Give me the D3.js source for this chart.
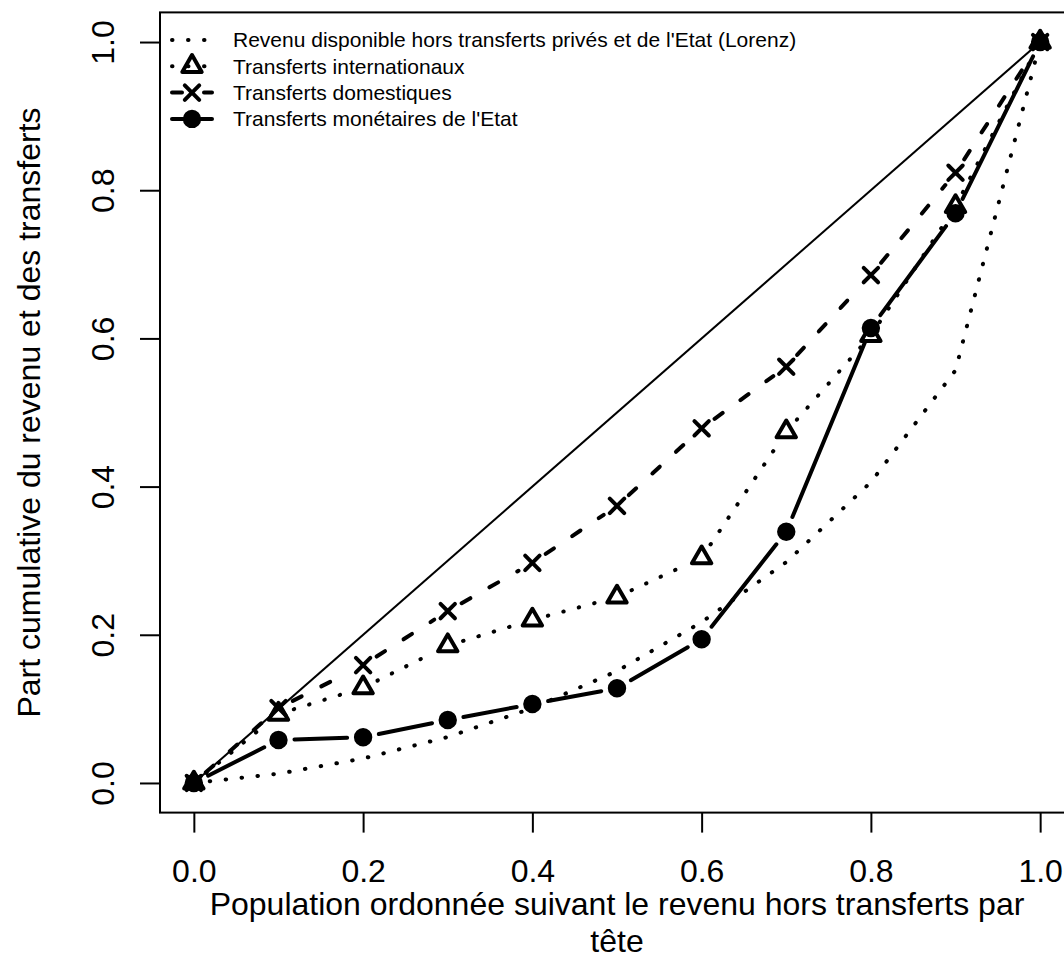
<!DOCTYPE html>
<html><head><meta charset="utf-8">
<script src="https://cdn.jsdelivr.net/npm/d3@7"></script>
<style>
body{margin:0;background:#fff}
svg{display:block}
text{font-family:"Liberation Sans",Arial,Helvetica,sans-serif;fill:#000}
</style>
</head><body>
<svg id="c" width="1064" height="960"></svg>
<script>
// ---- data ----
const deciles = [0, 0.1, 0.2, 0.3, 0.4, 0.5, 0.6, 0.7, 0.8, 0.9, 1.0];
const lorenz = [0, 0.0125, 0.033, 0.062, 0.101, 0.151, 0.217, 0.298, 0.406, 0.557, 1.0];
const internationaux = [0, 0.093, 0.1285, 0.1854, 0.22, 0.251, 0.304, 0.474, 0.604, 0.778, 1.0];
const domestiques = [0, 0.101, 0.159, 0.232, 0.297, 0.374, 0.4787, 0.5618, 0.6855, 0.8236, 1.0];
const etat = [0, 0.058, 0.0617, 0.085, 0.1066, 0.1278, 0.194, 0.339, 0.614, 0.769, 1.0];
const xTicks = [0, 0.2, 0.4, 0.6, 0.8, 1.0];
const yTicks = [0, 0.2, 0.4, 0.6, 0.8, 1.0];
const legendLabels = [
  "Revenu disponible hors transferts privés et de l'Etat (Lorenz)",
  "Transferts internationaux",
  "Transferts domestiques",
  "Transferts monétaires de l'Etat"
];
const xTitle1 = "Population ordonnée suivant le revenu hors transferts par";
const xTitle2 = "tête";
const yTitle = "Part cumulative du revenu et des transferts";

// ---- setup ----
const svg = d3.select("#c");
const L = 160, R = 1074, T = 12.4, B = 812.6;
const x = d3.scaleLinear().domain([-0.04, 1.04]).range([L, R]);
const y = d3.scaleLinear().domain([-0.04, 1.04]).range([B, T]);

const DOT = "0.5,15.5", DASH = "10,22";
const GAP = 16;
const S = 7.2; // symbol base size

function gappedSegments(g, xs, ys, dash) {
  for (let i = 0; i < xs.length - 1; i++) {
    const x0 = x(xs[i]), y0 = y(ys[i]), x1 = x(xs[i+1]), y1 = y(ys[i+1]);
    const d = Math.hypot(x1 - x0, y1 - y0);
    if (d <= 2 * GAP) continue;
    const ux = (x1 - x0) / d, uy = (y1 - y0) / d;
    g.append("line")
      .attr("x1", x0 + ux * GAP).attr("y1", y0 + uy * GAP)
      .attr("x2", x1 - ux * GAP).attr("y2", y1 - uy * GAP)
      .attr("stroke", "#000").attr("stroke-width", 4)
      .attr("stroke-linecap", "round")
      .attr("stroke-dasharray", dash);
  }
}
function tri(g, cx, cy) {
  g.append("path")
    .attr("d", `M${cx},${cy - 1.555*S}L${cx + 1.3468*S},${cy + 0.7776*S}L${cx - 1.3468*S},${cy + 0.7776*S}Z`)
    .attr("fill", "none").attr("stroke", "#000").attr("stroke-width", 4)
    .attr("stroke-linejoin", "round");
}
function cross(g, cx, cy) {
  g.append("path")
    .attr("d", `M${cx - S},${cy - S}L${cx + S},${cy + S}M${cx - S},${cy + S}L${cx + S},${cy - S}`)
    .attr("fill", "none").attr("stroke", "#000").attr("stroke-width", 4)
    .attr("stroke-linecap", "round");
}
function circ(g, cx, cy) {
  g.append("circle").attr("cx", cx).attr("cy", cy).attr("r", S)
    .attr("fill", "#000").attr("stroke", "#000").attr("stroke-width", 4);
}

const plot = svg.append("g");

// equality line
plot.append("line")
  .attr("x1", x(0)).attr("y1", y(0)).attr("x2", x(1)).attr("y2", y(1))
  .attr("stroke", "#000").attr("stroke-width", 2);

// Lorenz (dotted, no markers)
plot.append("path")
  .datum(deciles.map((d, i) => [d, lorenz[i]]))
  .attr("d", d3.line().x(d => x(d[0])).y(d => y(d[1])))
  .attr("fill", "none").attr("stroke", "#000").attr("stroke-width", 4)
  .attr("stroke-linecap", "round").attr("stroke-dasharray", DOT);

// internationaux (dotted + triangles)
gappedSegments(plot, deciles, internationaux, DOT);
deciles.forEach((d, i) => tri(plot, x(d), y(internationaux[i])));

// domestiques (dashed + crosses)
gappedSegments(plot, deciles, domestiques, DASH);
deciles.forEach((d, i) => cross(plot, x(d), y(domestiques[i])));

// Etat (solid + filled circles)
gappedSegments(plot, deciles, etat, null);
deciles.forEach((d, i) => circ(plot, x(d), y(etat[i])));

// box
svg.append("rect").attr("x", L).attr("y", T).attr("width", R - L).attr("height", B - T)
  .attr("fill", "none").attr("stroke", "#000").attr("stroke-width", 2);

// x axis
const xAxis = svg.append("g").attr("transform", `translate(0,${B})`)
  .call(d3.axisBottom(x).tickValues(xTicks).tickSize(20).tickPadding(0).tickFormat(d3.format(".1f")));
xAxis.select(".domain").remove();
xAxis.selectAll(".tick line").attr("stroke", "#000").attr("stroke-width", 2);
xAxis.selectAll(".tick text").attr("y", 69).attr("dy", 0)
  .style("font-size", "32px").style("font-family", "'Liberation Sans', Arial, sans-serif");

// y axis
const yAxis = svg.append("g").attr("transform", `translate(${L},0)`)
  .call(d3.axisLeft(y).tickValues(yTicks).tickSize(20).tickPadding(0).tickFormat(d3.format(".1f")));
yAxis.select(".domain").remove();
yAxis.selectAll(".tick line").attr("stroke", "#000").attr("stroke-width", 2);
yAxis.selectAll(".tick text")
  .attr("x", null).attr("dy", null)
  .attr("text-anchor", "middle")
  .attr("transform", "translate(-46,0) rotate(-90)")
  .style("font-size", "32px").style("font-family", "'Liberation Sans', Arial, sans-serif");

// titles
const midX = (L + R) / 2;
svg.append("text").attr("x", midX).attr("y", 915).attr("text-anchor", "middle")
  .style("font-size", "32px").text(xTitle1);
svg.append("text").attr("x", midX).attr("y", 952).attr("text-anchor", "middle")
  .style("font-size", "32px").text(xTitle2);
svg.append("text").attr("transform", `translate(40,${(T + B) / 2}) rotate(-90)`)
  .attr("text-anchor", "middle").style("font-size", "32px").text(yTitle);

// legend
const leg = svg.append("g");
const rowY = i => 40 + i * 26.3;
const lx0 = 172, lx1 = 212, lpx = 192;
const styles = [DOT, DOT, DASH, null];
legendLabels.forEach((lab, i) => {
  const yy = rowY(i);
  leg.append("line").attr("x1", lx0).attr("x2", lx1).attr("y1", yy).attr("y2", yy)
    .attr("stroke", "#000").attr("stroke-width", 4).attr("stroke-linecap", "round")
    .attr("stroke-dasharray", styles[i]);
  if (i === 1) tri(leg, lpx, yy);
  if (i === 2) cross(leg, lpx, yy);
  if (i === 3) circ(leg, lpx, yy);
  leg.append("text").attr("x", 233).attr("y", yy + 7.4)
    .style("font-size", "21px").text(lab);
});
</script>
</body></html>
